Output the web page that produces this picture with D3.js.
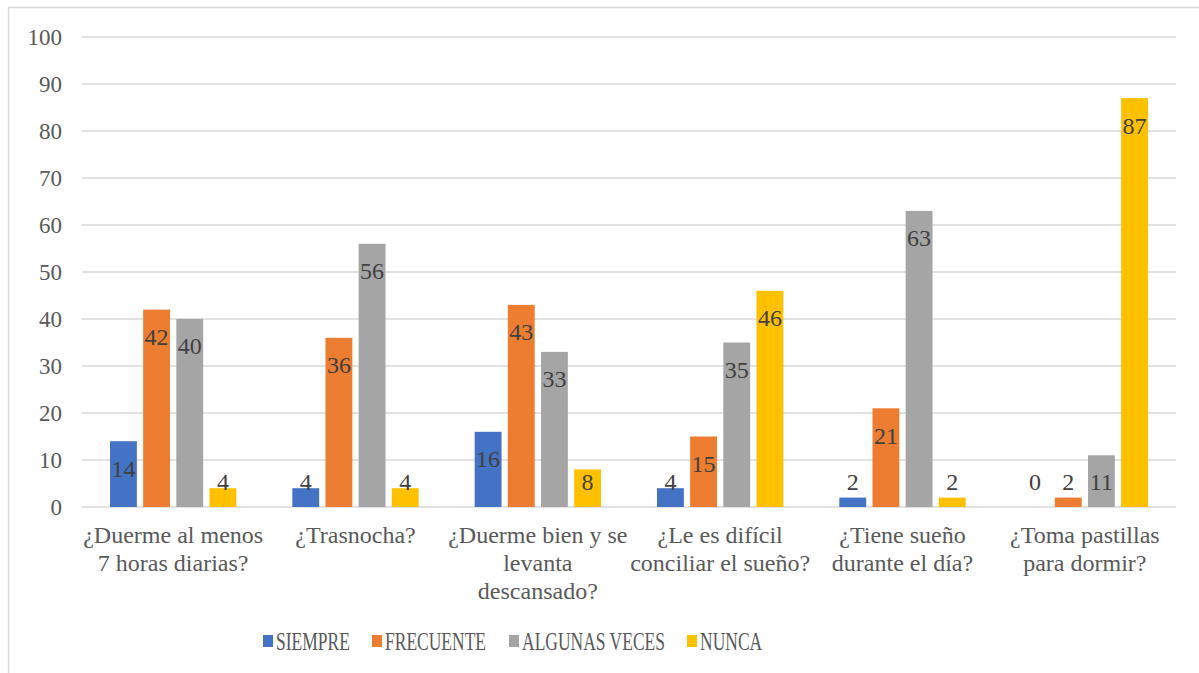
<!DOCTYPE html>
<html>
<head>
<meta charset="utf-8">
<script src="https://cdn.jsdelivr.net/npm/d3@7"></script>
<style>
	body { margin: 0; background: #fff; }
	text { font-family: "Liberation Serif", "Times New Roman", serif; }
</style>
</head>
<body>
<div class="chart"></div>
<script>
var categories = [
	["¿Duerme al menos", "7 horas diarias?"],
	["¿Trasnocha?"],
	["¿Duerme bien y se", "levanta", "descansado?"],
	["¿Le es difícil", "conciliar el sueño?"],
	["¿Tiene sueño", "durante el día?"],
	["¿Toma pastillas", "para dormir?"]
];
var seriesNames = ["SIEMPRE", "FRECUENTE", "ALGUNAS VECES", "NUNCA"];
var seriesColors = ["#4472c4", "#ed7d31", "#a5a5a5", "#ffc000"];
var siempre = [14, 4, 16, 4, 2, 0];
var frecuente = [42, 36, 43, 15, 21, 2];
var algunas = [40, 56, 33, 35, 63, 11];
var nunca = [4, 4, 8, 46, 2, 87];
var yTicks = [0, 10, 20, 30, 40, 50, 60, 70, 80, 90, 100];

var series = [siempre, frecuente, algunas, nunca];

var width = 1199,
	height = 673,
	plotLeft = 82,
	plotRight = 1176,
	plotTop = 37,
	plotBottom = 507;

var svg = d3.select("div.chart")
	.append("svg")
	.attr("width", width)
	.attr("height", height);

// outer frame
svg.append("rect")
	.attr("x", 8.5)
	.attr("y", 7.5)
	.attr("width", 1220)
	.attr("height", 700)
	.attr("fill", "none")
	.attr("stroke", "#d9d9d9")
	.attr("stroke-width", 1.5);

var x0 = d3.scaleBand()
	.domain(d3.range(categories.length))
	.range([plotLeft, plotRight])
	.paddingInner(0)
	.paddingOuter(0);

var x1 = d3.scaleBand()
	.domain(d3.range(series.length))
	.range([28, x0.bandwidth() - 28])
	.paddingInner(0.19);

var y = d3.scaleLinear()
	.domain([0, 100])
	.range([plotBottom, plotTop]);

// gridlines
svg.append("g").selectAll("line")
	.data(yTicks)
	.enter().append("line")
	.attr("x1", plotLeft)
	.attr("x2", plotRight)
	.attr("y1", function(d) { return y(d); })
	.attr("y2", function(d) { return y(d); })
	.attr("stroke", "#d9d9d9")
	.attr("stroke-width", 1.5);

// y tick labels
svg.append("g").selectAll("text")
	.data(yTicks)
	.enter().append("text")
	.attr("x", 62)
	.attr("y", function(d) { return y(d); })
	.attr("dy", "0.35em")
	.attr("text-anchor", "end")
	.attr("font-size", 23)
	.attr("fill", "#595959")
	.text(function(d) { return d; });

// bars
var groups = svg.append("g").selectAll("g")
	.data(categories)
	.enter().append("g")
	.attr("transform", function(d, i) { return "translate(" + x0(i) + ",0)"; });

groups.selectAll("rect")
	.data(function(d, i) { return series.map(function(s, k) { return { k: k, v: s[i] }; }); })
	.enter().append("rect")
	.attr("x", function(d) { return x1(d.k); })
	.attr("width", x1.bandwidth())
	.attr("y", function(d) { return y(d.v); })
	.attr("height", function(d) { return y(0) - y(d.v); })
	.attr("fill", function(d) { return seriesColors[d.k]; });

groups.selectAll("text.lbl")
	.data(function(d, i) { return series.map(function(s, k) { return { k: k, v: s[i] }; }); })
	.enter().append("text")
	.attr("class", "lbl")
	.attr("x", function(d) { return x1(d.k) + x1.bandwidth() / 2; })
	.attr("y", function(d) { return Math.min(y(d.v) + 27, y(0) - 25); })
	.attr("dy", "0.35em")
	.attr("text-anchor", "middle")
	.attr("font-size", 24)
	.attr("fill", "#404040")
	.text(function(d) { return d.v; });

// category labels
var catText = svg.append("g").selectAll("text")
	.data(categories)
	.enter().append("text")
	.attr("x", function(d, i) { return x0(i) + x0.bandwidth() / 2; })
	.attr("y", 535)
	.attr("text-anchor", "middle")
	.attr("font-size", 24)
	.attr("fill", "#595959");

catText.selectAll("tspan")
	.data(function(d) { return d; })
	.enter().append("tspan")
	.attr("x", function() { return d3.select(this.parentNode).attr("x"); })
	.attr("dy", function(d, i) { return i == 0 ? "0.35em" : 28; })
	.text(function(d) { return d; });

// legend (text is narrower than the rest in the original)
var legendX = [263, 372, 509, 687];
var legend = svg.append("g").selectAll("g")
	.data(seriesNames)
	.enter().append("g")
	.attr("transform", function(d, i) { return "translate(" + legendX[i] + ",641)"; });

legend.append("rect")
	.attr("x", 0)
	.attr("y", -6)
	.attr("width", 10)
	.attr("height", 12)
	.attr("fill", function(d, i) { return seriesColors[i]; });

legend.append("text")
	.attr("transform", "translate(13,0) scale(0.7,1)")
	.attr("dy", "0.35em")
	.attr("font-size", 25)
	.attr("fill", "#595959")
	.text(function(d) { return d; });
</script>
</body>
</html>
